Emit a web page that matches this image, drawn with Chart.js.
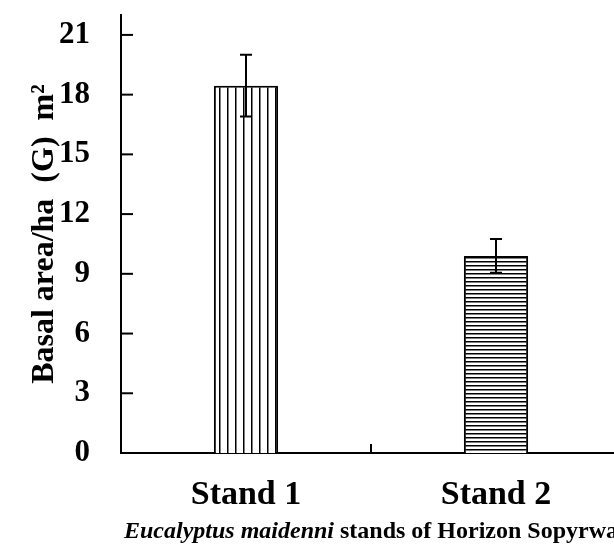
<!DOCTYPE html>
<html>
<head>
<meta charset="utf-8">
<script src="https://cdn.jsdelivr.net/npm/chart.js@4"></script>
<style>
  html, body { margin: 0; padding: 0; background: #fff; overflow: hidden; }
  #wrap { width: 621px; height: 548px; }
</style>
</head>
<body>
<div id="wrap"><canvas id="basalChart"></canvas></div>
<script>
const categories = ["Stand 1", "Stand 2"];
const basalArea = [18.45, 9.9];
const errors = [1.55, 0.85];
const yTicks = [0, 3, 6, 9, 12, 15, 18, 21];

const serif = "'Liberation Serif', 'Times New Roman', serif";

function stripePattern(vertical) {
  const c = document.createElement("canvas");
  const size = vertical ? 8 : 4;
  c.width = size;
  c.height = size;
  const g = c.getContext("2d");
  g.fillStyle = "#fff";
  g.fillRect(0, 0, size, size);
  g.fillStyle = "#000";
  if (vertical) g.fillRect(3, 0, 1.5, size);
  else g.fillRect(0, 1, size, 1.5);
  return g.createPattern(c, "repeat");
}

const decorations = {
  id: "decorations",
  afterDatasetsDraw(chart) {
    const { ctx, scales: { x, y } } = chart;
    ctx.save();
    ctx.strokeStyle = "#000";
    ctx.lineWidth = 2;

    // error bars
    basalArea.forEach((v, i) => {
      const px = x.getPixelForValue(i);
      const top = y.getPixelForValue(v + errors[i]);
      const bot = y.getPixelForValue(v - errors[i]);
      ctx.beginPath();
      ctx.moveTo(px, top);
      ctx.lineTo(px, bot);
      ctx.moveTo(px - 6, top);
      ctx.lineTo(px + 6, top);
      ctx.moveTo(px - 6, bot);
      ctx.lineTo(px + 6, bot);
      ctx.stroke();
    });

    // inward ticks on y axis
    yTicks.forEach((t) => {
      const py = y.getPixelForValue(t);
      ctx.beginPath();
      ctx.moveTo(x.left, py);
      ctx.lineTo(x.left + 12, py);
      ctx.stroke();
    });

    // inward ticks between categories
    for (let i = 0; i < categories.length - 1; i++) {
      const bx = (x.getPixelForValue(i) + x.getPixelForValue(i + 1)) / 2;
      ctx.beginPath();
      ctx.moveTo(bx, y.bottom);
      ctx.lineTo(bx, y.bottom - 9);
      ctx.stroke();
    }

    // caption with italic species name
    const part1 = "Eucalyptus maidenni";
    const part2 = " stands of Horizon Sopyrwa";
    const f1 = "italic bold 24px " + serif;
    const f2 = "bold 24px " + serif;
    ctx.font = f1;
    const w1 = ctx.measureText(part1).width;
    ctx.font = f2;
    const w2 = ctx.measureText(part2).width;
    const cx = (x.left + x.right) / 2;
    let sx = cx - (w1 + w2) / 2;
    ctx.fillStyle = "#000";
    ctx.textBaseline = "alphabetic";
    ctx.textAlign = "left";
    ctx.font = f1;
    ctx.fillText(part1, sx, 538);
    ctx.font = f2;
    ctx.fillText(part2, sx + w1, 538);
    ctx.restore();
  },
};

new Chart(document.getElementById("basalChart"), {
  type: "bar",
  data: {
    labels: categories,
    datasets: [
      {
        data: basalArea,
        backgroundColor: [stripePattern(true), stripePattern(false)],
        borderColor: "#000",
        borderWidth: 2,
        barPercentage: 0.257,
        categoryPercentage: 1,
      },
    ],
  },
  options: {
    responsive: true,
    maintainAspectRatio: false,
    animation: false,
    layout: { padding: { top: 15, left: 0, right: 0, bottom: 0 } },
    plugins: {
      legend: { display: false },
      tooltip: { enabled: false },
    },
    scales: {
      x: {
        grid: { display: false },
        border: { display: true, color: "#000", width: 2 },
        ticks: {
          color: "#000",
          padding: 14,
          font: { family: serif, size: 34, weight: "bold" },
        },
        afterFit(scale) {
          scale.height = 95;
          scale.paddingLeft = 0;
          scale.paddingRight = 0;
        },
      },
      y: {
        min: 0,
        max: 22,
        grid: { display: false },
        border: { display: true, color: "#000", width: 2 },
        afterBuildTicks(scale) { scale.ticks = yTicks.map((v) => ({ value: v })); },
        ticks: {
          color: "#000",
          padding: 23,
          font: { family: serif, size: 31, weight: "bold" },
        },
        title: {
          display: true,
          text: "Basal area/ha  (G)  m²",
          color: "#000",
          padding: { top: 26, bottom: 0 },
          font: { family: serif, size: 32, weight: "bold" },
        },
        afterFit(scale) {
          scale.width = 121;
          scale.paddingTop = 0;
          scale.paddingBottom = 0;
        },
      },
    },
  },
  plugins: [decorations],
});
</script>
</body>
</html>
